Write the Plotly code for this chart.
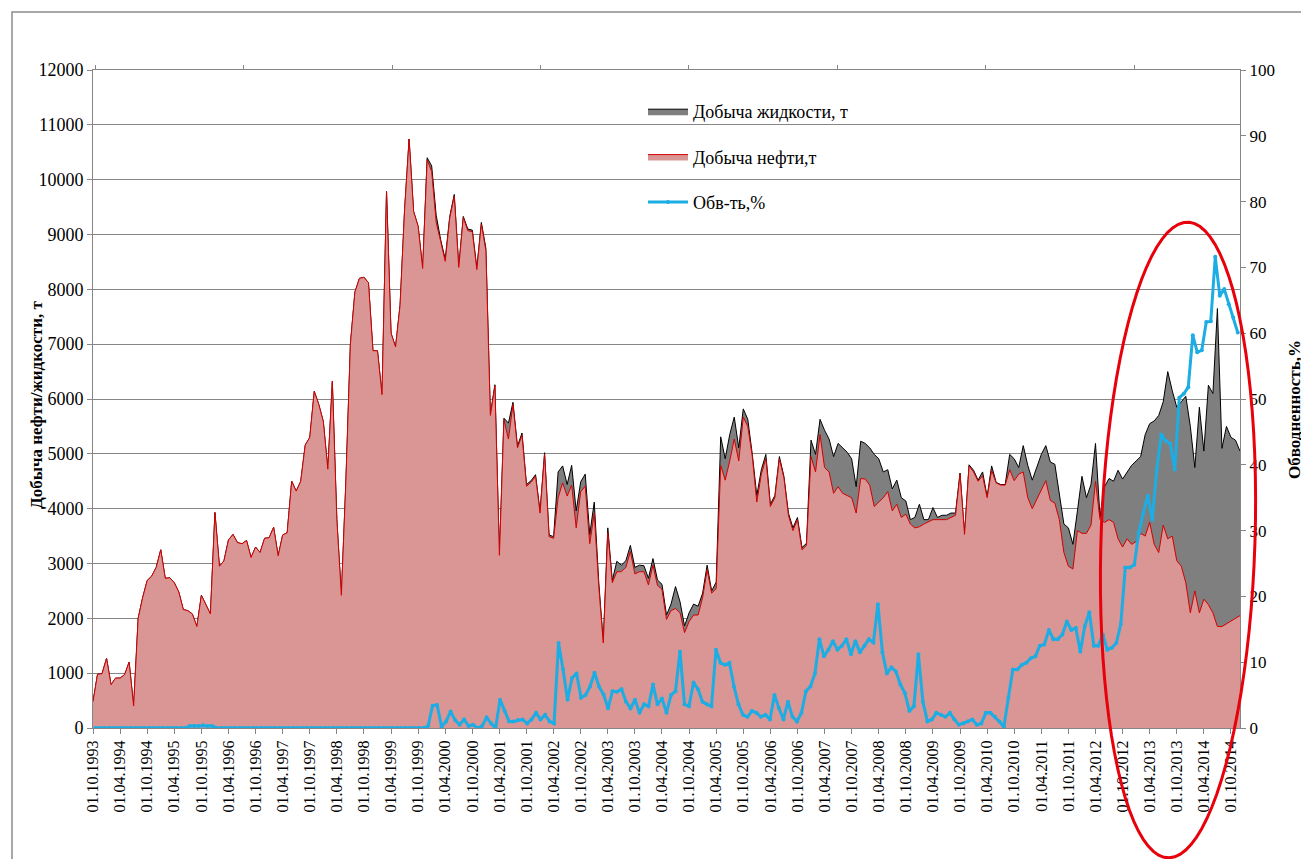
import numpy as np
import pandas as pd
import plotly.graph_objects as go

# Monthly production, 10.1993 - 12.2014
oil_t = [
    480, 980, 990, 1270, 790, 910, 910, 975, 1200, 400, 2000, 2380,
    2690, 2770, 2930, 3250, 2730, 2740, 2650, 2480, 2160, 2140, 2080, 1850,
    2420, 2250, 2080, 3930, 2950, 3050, 3430, 3530, 3380, 3360, 3420, 3110,
    3300, 3200, 3460, 3470, 3660, 3140, 3520, 3560, 4500, 4320, 4500, 5160,
    5300, 6140, 5900, 5590, 4720, 6320, 3800, 2420, 4500, 7000, 7950, 8200,
    8220, 8120, 6880, 6880, 6080, 9790, 7200, 6950, 7710, 9450, 10740, 9420,
    9150, 8380, 10360, 10150, 9220, 8870, 8510, 9300, 9700, 8400, 9310, 9070,
    9050, 8360, 9190, 8710, 5700, 6240, 3150, 5620, 5270, 5900, 5110, 5340,
    4410, 4480, 4590, 3920, 4990, 3490, 3460, 4200, 4470, 4230, 4430, 3650,
    4310, 4410, 3360, 3920, 2580, 1550, 3560, 2650, 2850, 2850, 2930, 3220,
    2810, 2850, 2850, 2610, 2970, 2600, 2530, 1980, 2140, 2180, 2100, 1740,
    1940, 2060, 2060, 2380, 2890, 2460, 2540, 4790, 4520, 4870, 5270, 4870,
    5670, 5500, 4950, 4120, 4630, 4910, 4040, 4200, 4910, 4560, 3880, 3600,
    3800, 3250, 3330, 4950, 4670, 5350, 4750, 4670, 4280, 4400, 4280, 4240,
    4200, 3920, 4550, 4540, 4430, 4040, 4120, 4200, 4310, 3960, 4080, 3840,
    3900, 3720, 3650, 3670, 3720, 3760, 3800, 3800, 3800, 3800, 3840, 3880,
    4630, 3530, 4780, 4670, 4500, 4600, 4200, 4700, 4470, 4430, 4430, 4710,
    4510, 4630, 4670, 4200, 4000, 4160, 4350, 4510, 4150, 4100, 3800, 3200,
    2950, 2900, 3600, 3550, 3550, 3700, 4500, 3800, 3750, 3800, 3750, 3450,
    3300, 3450, 3350, 3400, 3550, 3500, 3750, 3350, 3200, 3700, 3450, 3500,
    3050, 2950, 2650, 2100, 2500, 2100, 2350, 2250, 2100, 1850, 1850, 1900,
    1950, 2000, 2050,
]

liquid_t = [
    480, 980, 990, 1270, 790, 910, 910, 975, 1200, 400, 2000, 2380,
    2690, 2770, 2930, 3250, 2730, 2740, 2650, 2480, 2160, 2140, 2080, 1850,
    2420, 2250, 2080, 3930, 2950, 3050, 3430, 3530, 3380, 3360, 3420, 3110,
    3300, 3200, 3460, 3470, 3660, 3140, 3520, 3560, 4500, 4320, 4500, 5160,
    5300, 6140, 5900, 5590, 4720, 6320, 3800, 2420, 4500, 7000, 7950, 8200,
    8220, 8120, 6880, 6880, 6080, 9790, 7200, 6950, 7710, 9450, 10740, 9420,
    9150, 8380, 10400, 10250, 9350, 8900, 8550, 9330, 9730, 8420, 9330, 9100,
    9080, 8390, 9220, 8750, 5720, 6260, 3170, 5650, 5560, 5940, 5140, 5380,
    4440, 4510, 4620, 3950, 5020, 3520, 3490, 4670, 4780, 4440, 4790, 3960,
    4490, 4630, 3530, 4120, 2660, 1570, 3650, 2690, 3040, 2970, 3050, 3330,
    2930, 2970, 2960, 2730, 3090, 2700, 2620, 2060, 2260, 2580, 2300, 1860,
    2100, 2260, 2220, 2460, 2970, 2500, 2660, 5310, 4910, 5350, 5670, 5110,
    5820, 5630, 4990, 4240, 4710, 4990, 4080, 4240, 4950, 4590, 3920, 3650,
    3840, 3290, 3370, 5250, 4990, 5630, 5430, 5270, 4950, 5190, 5110, 5030,
    4910, 4400, 5230, 5190, 5110, 4990, 4910, 4670, 4710, 4360, 4520, 4200,
    4140, 3800, 3840, 4080, 3800, 3800, 4020, 3840, 3880, 3880, 3920, 3920,
    4650, 3540, 4800, 4700, 4520, 4670, 4220, 4780, 4480, 4440, 4440, 4990,
    4910, 4750, 5150, 4790, 4520, 4750, 4990, 5150, 4850, 4810, 4250, 3720,
    3650, 3350, 3960, 4590, 4200, 4440, 5190, 3850, 4400, 4550, 4500, 4700,
    4540, 4670, 4790, 4870, 4950, 5350, 5550, 5600, 5700, 5950, 6500, 6150,
    5850, 5950, 6050, 5500, 4750, 5850, 5050, 6250, 6100, 7650, 5100, 5500,
    5300, 5250, 5050,
]

water_cut_pct = [
    0, 0, 0, 0, 0, 0, 0, 0, 0, 0, 0, 0,
    0, 0, 0, 0, 0, 0, 0, 0, 0, 0.3, 0.3, 0.3,
    0.4, 0.3, 0.3, 0, 0, 0, 0, 0, 0, 0, 0, 0,
    0, 0, 0, 0, 0, 0, 0, 0, 0, 0, 0, 0,
    0, 0, 0, 0, 0, 0, 0, 0, 0, 0, 0, 0,
    0, 0, 0, 0, 0, 0, 0, 0, 0, 0, 0, 0,
    0, 0, 0.3, 3.4, 3.5, 0.2, 1.0, 2.5, 1.2, 0.5, 1.3, 0.3,
    0.5, 0, 0.3, 1.6, 0.7, 0, 4.3, 2.6, 1.0, 1.0, 1.2, 1.3,
    0.7, 1.3, 2.3, 1.3, 2.0, 1.0, 0.7, 12.9, 8.9, 4.3, 7.6, 8.3,
    4.6, 5.0, 6.3, 8.4, 6.3, 5.1, 3.0, 5.6, 5.5, 5.9, 4.0, 3.0,
    4.3, 2.3, 3.6, 3.3, 6.6, 3.6, 4.5, 2.3, 5.0, 5.6, 11.6, 3.6,
    3.3, 6.9, 5.9, 4.0, 3.6, 3.3, 11.9, 9.9, 9.6, 9.9, 6.3, 3.6,
    2.0, 1.7, 2.6, 2.3, 1.7, 2.0, 1.3, 5.0, 3.0, 1.3, 4.0, 1.7,
    1.0, 2.3, 5.6, 6.3, 8.3, 13.5, 10.9, 11.9, 13.2, 11.9, 12.5, 13.5,
    11.2, 13.2, 11.5, 12.5, 13.5, 13.0, 18.8, 11.5, 8.3, 9.2, 8.6, 6.6,
    5.3, 2.6, 3.3, 11.2, 4.0, 1.0, 1.3, 2.3, 2.0, 1.7, 2.3, 1.3,
    0.5, 0.7, 1.0, 1.3, 0.5, 0.7, 2.3, 2.3, 1.7, 1.0, 0.2, 4.6,
    8.9, 8.9, 9.6, 9.9, 10.6, 10.9, 12.5, 12.7, 14.9, 13.5, 13.5, 14.2,
    16.2, 14.9, 15.2, 11.6, 15.5, 17.6, 12.5, 12.5, 14.2, 11.9, 12.2, 12.9,
    15.8, 24.4, 24.4, 24.8, 29.7, 32.7, 35.3, 31.7, 39.3, 44.6, 43.6, 43.2,
    39.3, 50.2, 50.8, 51.8, 59.7, 57.1, 57.4, 61.7, 61.8, 71.6, 65.7, 66.7,
    64.4, 62.4, 60.1,
]

assert len(oil_t) == len(liquid_t) == len(water_cut_pct) == 255

months = [d.strftime("%d.%m.%Y") for d in pd.date_range("1993-10-01", periods=len(oil_t), freq="MS")]
tick_labels = months[::6]
top_ticks = months[::33]

FONT = "Liberation Serif, Times New Roman, serif"
GRID = "#868686"

# page has an 8px body margin: the figure is drawn 8px right/down of the window corner
OFF = 8
FIG_W, FIG_H = 1309 - OFF, 859 - OFF
# plot-area geometry in window pixels
L, R, T, B = 93, 1240, 70, 728
W, H = R - L, B - T


def px_to_paper(x, y):
    return (x - L) / W, (B - y) / H


fig = go.Figure()
fig.add_trace(go.Scatter(
    x=months, y=liquid_t, name="Добыча жидкости, т", mode="lines",
    line=dict(color="#000000", width=1), fill="tozeroy", fillcolor="#7F7F7F",
    legendgroup="g1",
))
fig.add_trace(go.Scatter(
    x=months, y=oil_t, name="Добыча нефти,т", mode="lines",
    line=dict(color="#D40000", width=1), fill="tozeroy", fillcolor="#D99694",
    legendgroup="g2",
))
fig.add_trace(go.Scatter(
    x=months, y=water_cut_pct, name="Обв-ть,%", mode="lines+markers",
    line=dict(color="#1CADE4", width=3), marker=dict(color="#1CADE4", size=4),
    xaxis="x2", yaxis="y2", legendgroup="g3",
))

# ellipse highlight (annotation)
cx, cy, a, b, alpha = 1178, 540, 77, 318, np.deg2rad(1.8)
phi = np.linspace(0, 2 * np.pi, 90)
ex = cx + a * np.cos(phi) * np.cos(alpha) - b * np.sin(phi) * np.sin(alpha)
ey = cy + a * np.cos(phi) * np.sin(alpha) + b * np.sin(phi) * np.cos(alpha)
pts = [px_to_paper(x, y) for x, y in zip(ex, ey)]
path = "M " + " L ".join(f"{p[0]:.5f},{p[1]:.5f}" for p in pts) + " Z"

lx0, ly0 = px_to_paper(636, 215)
lx1, ly1 = px_to_paper(876, 92)
bx0, by0 = px_to_paper(12, 880)
bx1, by1 = px_to_paper(1330, 12)
leg_x, leg_y = px_to_paper(643, 93)
ytl_x, ytl_y = px_to_paper(36, 405)
y2t_x, y2t_y = px_to_paper(1294, 410)

fig.update_layout(
    width=FIG_W, height=FIG_H, autosize=False,
    margin=dict(l=L - OFF, r=FIG_W - (R - OFF), t=T - OFF, b=FIG_H - (B - OFF), pad=0, autoexpand=False),
    paper_bgcolor="white", plot_bgcolor="white",
    font=dict(family=FONT, size=16, color="black"),
    showlegend=True,
    legend=dict(
        x=leg_x, y=leg_y, xanchor="left", yanchor="top",
        bgcolor="rgba(0,0,0,0)", font=dict(family=FONT, size=18),
        itemwidth=40, tracegroupgap=19, traceorder="grouped",
    ),
    xaxis=dict(
        type="category", range=[0, len(months) - 1], automargin=False,
        tickmode="array", tickvals=tick_labels, ticktext=tick_labels,
        tickangle=-90, ticks="outside", ticklen=5, tickcolor=GRID,
        showline=True, linecolor=GRID, showgrid=False, zeroline=False,
        tickfont=dict(family=FONT, size=16),
    ),
    xaxis2=dict(
        type="category", overlaying="x", side="top", anchor="y2", automargin=False,
        range=[-0.5, len(months) - 0.5],
        tickmode="array", tickvals=top_ticks, ticks="outside", ticklen=4,
        tickcolor=GRID, showticklabels=False, showline=True, linecolor=GRID,
        showgrid=False, zeroline=False,
    ),
    yaxis=dict(
        range=[0, 12000], dtick=1000, tick0=0, tickformat="d", automargin=False,
        showgrid=True, gridcolor=GRID, gridwidth=1,
        showline=True, linecolor=GRID, ticks="outside", ticklen=5, tickcolor=GRID,
        zeroline=False, tickfont=dict(family=FONT, size=18),
    ),
    yaxis2=dict(
        overlaying="y", side="right", anchor="x2", range=[0, 100], dtick=10, tick0=0,
        automargin=False,
        showgrid=False, showline=True, linecolor=GRID, ticks="outside", ticklen=5,
        tickcolor=GRID, zeroline=False, tickfont=dict(family=FONT, size=17),
    ),
    annotations=[
        dict(text="<b>Добыча нефти/жидкости, т</b>", xref="paper", yref="paper",
             x=ytl_x, y=ytl_y, xanchor="center", yanchor="middle", textangle=-90,
             showarrow=False, font=dict(family=FONT, size=17)),
        dict(text="<b>Обводненность,%</b>", xref="paper", yref="paper",
             x=y2t_x, y=y2t_y, xanchor="center", yanchor="middle", textangle=-90,
             showarrow=False, font=dict(family=FONT, size=17)),
    ],
    shapes=[
        dict(type="rect", xref="paper", yref="paper", x0=lx0, x1=lx1, y0=ly0, y1=ly1,
             fillcolor="white", line=dict(width=0), layer="between"),
        dict(type="path", xref="paper", yref="paper", path=path,
             line=dict(color="#E8000B", width=3), layer="above"),
        dict(type="rect", xref="paper", yref="paper", x0=bx0, x1=bx1, y0=by0, y1=by1,
             line=dict(color="#8C8C8C", width=1.5), fillcolor="rgba(0,0,0,0)", layer="above"),
    ],
)

fig.write_html("out.html")
